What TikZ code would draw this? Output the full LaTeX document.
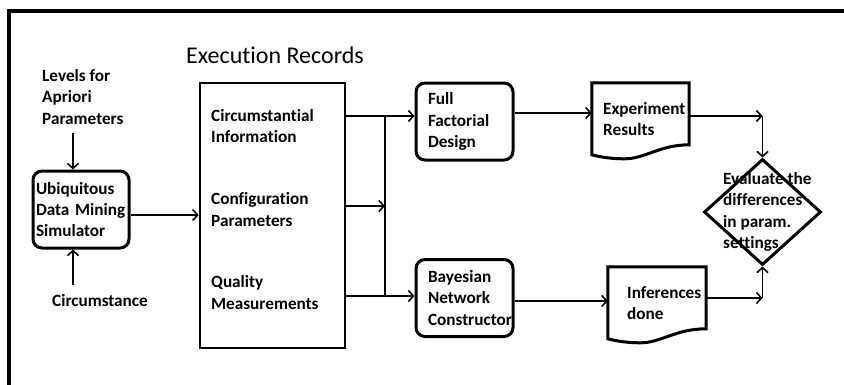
\documentclass[tikz,border=0pt]{standalone}
\usepackage{fontspec}
\setmainfont{Carlito}[Ligatures=NoCommon]
\usetikzlibrary{arrows.meta,shapes.geometric,calc}
\newcommand\docshape[1]{%
  \draw[docline] (#1.north west) -- (#1.north east) -- ($(#1.north east)+(0,62)$)
    .. controls ($(#1.north west)+(68,62)$) and ($(#1.north west)+(53,76)$) .. ($(#1.north west)+(33,76)$)
    .. controls ($(#1.north west)+(18,76)$) and ($(#1.north west)+(8,74)$) .. ($(#1.north west)+(0,72)$) -- cycle;}
\begin{document}
\begin{tikzpicture}[x=1pt,y=-1pt,
  bf/.style={font=\bfseries\fontsize{17.2}{21.3}\selectfont},
  txt/.style={bf, align=left, inner sep=0, anchor=west},
  rbox/.style={draw, line width=3pt, rounded corners=9pt, minimum height=77pt,
    bf, align=left, inner ysep=0},
  docline/.style={line width=3pt, line join=miter},
  ghost/.style={draw=none, inner sep=0},
  arr/.style={-{Straight Barb[length=5pt,width=11pt,line width=1.6pt]}, line width=1.6pt},
  ln/.style={line width=1.6pt}]
\useasboundingbox (0,0) rectangle (844,384);
\draw[line width=3.5pt] (9,420) -- (9,11) -- (860,11);

\node[anchor=west, inner sep=0, font=\fontsize{24}{26}\selectfont] (title) at (186,55) {Execution Records};

\node[txt] (lev) at (42,97) {Levels for\\Apriori\\Parameters};
\node[bf, inner sep=0] (circ) at (100,301) {Circumstance};

\node[rbox, text width=90pt, inner xsep=3pt] (udm) at (81,209.5) {Ubiquitous\\Data Mining\\Simulator};

\node[draw, line width=2.6pt, minimum width=145pt, minimum height=265pt, inner sep=0] (recs) at (272.5,215.5) {};
\node[txt] (ci) at (211,126) {Circumstantial\\Information};
\node[txt] (cp) at (211,209.5) {Configuration\\Parameters};
\node[txt] (qm) at (211,292.5) {Quality\\Measurements};

\node[rbox, text width=73pt, inner xsep=12pt] (ffd) at (464.5,121.5) {Full\\Factorial\\Design};
\node[rbox, text width=73pt, inner xsep=12pt] (bnc) at (464.5,298) {Bayesian\\Network\\Constructor};

\node[ghost, minimum width=97pt, minimum height=67pt] (er) at (640.5,116.5) {};
\docshape{er}
\node[txt] (ert) at (603,119) {Experiment\\Results};

\node[ghost, minimum width=98pt, minimum height=67pt] (id) at (657,300.5) {};
\docshape{id}
\node[txt] (idt) at (627,303) {Inferences\\done};

\node[diamond, draw, line width=3pt, minimum width=117pt, minimum height=106pt, inner sep=0] (dia) at (762.5,212) {};
\node[txt] (evt) at (723,212) {Evaluate the\\differences\\in param.\\settings};

% helper coordinates
\coordinate (a1) at (73,133);
\coordinate (a2) at (73,285);
\coordinate (p0) at (0,215);
\coordinate (j1) at (385,116);
\coordinate (j2) at (385,206);
\coordinate (j3) at (385,296);
\coordinate (q1) at (0,113);
\coordinate (q2) at (0,301);
\coordinate (k1) at (762.5,116);
\coordinate (k2) at (762.5,298);

\draw[arr] (a1) -- (udm.north -| a1);
\draw[arr] (a2) -- (udm.south -| a2);
\draw[arr] (udm.east |- p0) -- (recs.west |- p0);

\draw[arr] (recs.east |- j1) -- (ffd.west |- j1);
\draw[ln] (j1) -- (j3);
\draw[arr] (recs.east |- j2) -- (j2);
\draw[arr] (recs.east |- j3) -- (bnc.west |- j3);

\draw[arr] (ffd.east |- q1) -- (er.west |- q1);
\draw[arr] (bnc.east |- q2) -- (id.west |- q2);

\draw[arr] (er.east |- k1) -- (k1);
\draw[arr] (k1) -- (dia.north);
\draw[arr] (id.east |- k2) -- (k2);
\draw[arr] (k2) -- (dia.south);
\end{tikzpicture}
\end{document}
